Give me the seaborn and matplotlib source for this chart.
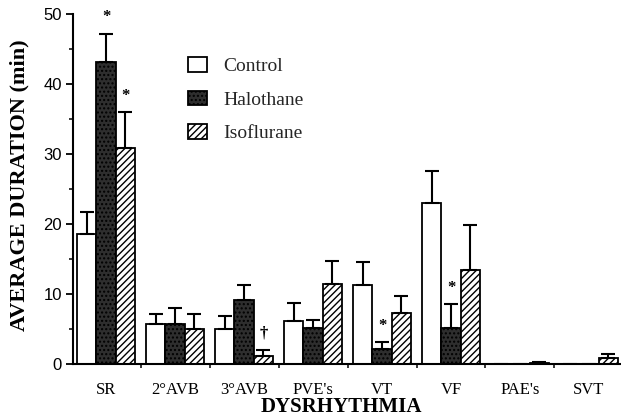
import numpy as np
import pandas as pd
import matplotlib
matplotlib.use("Agg")
import matplotlib.pyplot as plt
import seaborn as sns
from matplotlib.ticker import MultipleLocator, FixedLocator

categories = ["SR", "2°AVB", "3°AVB", "PVE's", "VT", "VF", "PAE's", "SVT"]
series = ["Control", "Halothane", "Isoflurane"]
control = [18.6, 5.7, 5.0, 6.2, 11.3, 23.0, 0.0, 0.0]
control_err = [21.7, 7.2, 6.9, 8.7, 14.6, 27.6, np.nan, np.nan]
halothane = [43.1, 5.7, 9.1, 5.1, 2.1, 5.2, 0.0, 0.0]
halothane_err = [47.2, 8.0, 11.3, 6.3, 3.1, 8.6, np.nan, np.nan]
isoflurane = [30.9, 5.0, 1.1, 11.4, 7.3, 13.5, 0.1, 0.8]
isoflurane_err = [36.0, 7.1, 2.0, 14.7, 9.7, 19.8, 0.25, 1.4]
annotations = [("SR", "Halothane", "*"), ("SR", "Isoflurane", "*"),
               ("3°AVB", "Isoflurane", "†"), ("VT", "Halothane", "*"),
               ("VF", "Halothane", "*")]
y_ticks = [0, 10, 20, 30, 40, 50]

values = {"Control": control, "Halothane": halothane, "Isoflurane": isoflurane}
errors = {"Control": control_err, "Halothane": halothane_err, "Isoflurane": isoflurane_err}
df = pd.DataFrame([(c, s, values[s][i]) for s in series for i, c in enumerate(categories)],
                  columns=["Dysrhythmia", "Group", "Duration"])

sns.set_theme(style="white")
plt.rcParams["font.family"] = ["Liberation Serif", "DejaVu Serif"]
plt.rcParams["hatch.linewidth"] = 1.0

fig = plt.figure(figsize=(6.21, 4.19), dpi=100)
ax = fig.add_axes([73 / 621, 55 / 419, 547 / 621, 350 / 419])

colors = {"Control": "white", "Halothane": "#2e2e2e", "Isoflurane": "white"}
sns.barplot(data=df, x="Dysrhythmia", y="Duration", hue="Group", order=categories,
            hue_order=series, errorbar=None, width=0.84, ax=ax, palette=colors,
            edgecolor="black", linewidth=1.3, saturation=1)

hatches = {"Control": "", "Halothane": "....", "Isoflurane": "/////"}
bar_x = {}
for cont, s in zip(ax.containers, series):
    for i, p in enumerate(cont.patches):
        p.set_hatch(hatches[s])
        p.set_edgecolor("black")
        bar_x[(categories[i], s)] = p.get_x() + p.get_width() / 2
    xs = [bar_x[(c, s)] for c in categories]
    vals = np.array(values[s])
    errs = np.array(errors[s]) - vals
    ax.errorbar(xs, vals, yerr=[np.zeros_like(errs), errs], fmt="none",
                ecolor="black", elinewidth=1.5, capsize=5, capthick=1.5, zorder=1)

for c, s, sym in annotations:
    i = categories.index(c)
    ax.text(bar_x[(c, s)], errors[s][i] + 2.3, sym, ha="center", va="center",
            fontsize=12, fontweight="bold", color="black", clip_on=False)

ax.set_xlim(-0.48, 7.45)
ax.set_ylim(0, 50)
ax.set_yticks(y_ticks)
ax.yaxis.set_minor_locator(MultipleLocator(5))
ax.xaxis.set_minor_locator(FixedLocator(np.arange(0.5, 7, 1.0)))
ax.tick_params(axis="y", which="major", direction="out", length=5, width=1.3,
               labelsize=12, pad=3, left=True, colors="black")
ax.tick_params(axis="y", which="minor", direction="out", length=3, width=1.3, left=True)
ax.tick_params(axis="x", which="major", length=0, labelsize=12, pad=13, colors="black")
ax.tick_params(axis="x", which="minor", direction="out", length=3, width=1.3, bottom=True)
for lab in ax.get_yticklabels():
    lab.set_fontfamily("Liberation Sans")

for side in ["top", "right"]:
    ax.spines[side].set_visible(False)
for side in ["left", "bottom"]:
    ax.spines[side].set_color("black")
    ax.spines[side].set_linewidth(1.5)

ax.set_xlabel("DYSRHYTHMIA", fontsize=15, fontweight="bold", color="black")
ax.set_ylabel("AVERAGE DURATION (min)", fontsize=16, fontweight="bold", color="black")
ax.xaxis.set_label_coords(0.49, -0.094)
ax.yaxis.set_label_coords(-0.08, 0.51)

leg = ax.legend(loc="upper left", bbox_to_anchor=(0.196, 0.9), frameon=False,
                fontsize=14, handlelength=1.0, handleheight=0.8, handletextpad=0.8,
                labelspacing=0.8, borderaxespad=0)
for h, s in zip(leg.legend_handles, series):
    h.set_facecolor(colors[s])
    h.set_hatch(hatches[s])
    h.set_edgecolor("black")
    h.set_linewidth(1.3)

fig.savefig("out.png", dpi=100)
